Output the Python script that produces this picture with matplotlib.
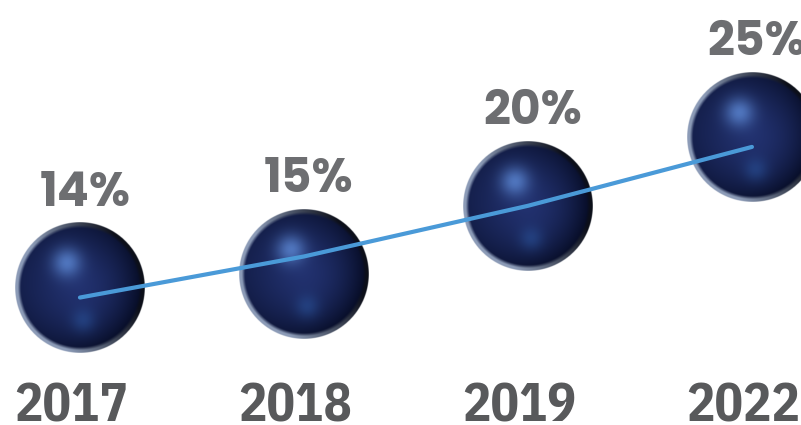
import numpy as np
import matplotlib
matplotlib.use("Agg")
import matplotlib.pyplot as plt
import matplotlib.transforms as mtransforms

# chart data
years = ["2017", "2018", "2019", "2022"]
shares = [14, 15, 20, 25]
trend = [13.3, 16.3, 20.0, 24.3]

W, H = 801, 425
fig = plt.figure(figsize=(W / 100, H / 100), dpi=100)
ax = fig.add_axes([0, 0, 1, 1])
ax.set_xlim(-0.357, 3.219)
ax.set_ylim(3.99, 35.03)
ax.axis("off")

px_x = W / (3.219 + 0.357)
px_y = H / (35.03 - 3.99)
R = 65


def sphere_image(n=300):
    g = np.linspace(-1, 1, n)
    u, v = np.meshgrid(g, g)
    r = np.hypot(u, v)
    center = np.array([0.13, 0.19, 0.43])
    edge = np.array([0.02, 0.04, 0.13])
    f = np.clip(r ** 1.6 * (0.75 + 0.35 * (0.8 * u + 0.3 * v)), 0, 1)[..., None]
    col = center * (1 - f) + edge * f
    h1 = np.exp(-((u + 0.2) ** 2 + (v + 0.38) ** 2) / (2 * 0.16 ** 2))[..., None]
    col = col * (1 - 0.8 * h1) + np.array([0.36, 0.53, 0.83]) * 0.8 * h1
    h2 = np.exp(-((u - 0.05) ** 2 + (v - 0.5) ** 2) / (2 * 0.13 ** 2))[..., None]
    col = col * (1 - 0.45 * h2) + np.array([0.18, 0.36, 0.66]) * 0.45 * h2
    ring = np.clip((r - 0.91) / 0.05, 0, 1)[..., None]
    a = np.clip(0.6 - 0.75 * u + 0.25 * v, 0, 1)[..., None]
    rim = np.array([0.55, 0.61, 0.72]) * a + np.array([0.05, 0.06, 0.10]) * (1 - a)
    col = col * (1 - ring) + rim * ring
    alpha = np.clip((1 - r) * n / 2 + 0.5, 0, 1)
    return np.dstack([np.clip(col, 0, 1), alpha])


img = sphere_image()
hx, hy = R / px_x, R / px_y
for i, s in enumerate(shares):
    ax.imshow(img, extent=(i - hx, i + hx, s - hy, s + hy), aspect="auto",
              interpolation="bilinear", zorder=2)
    ax.annotate(f"{s}%", (i, s), xytext=(5, R + 17), textcoords="offset pixels",
                ha="center", va="baseline", fontsize=34, fontweight="bold",
                family=["Poppins", "Lato", "DejaVu Sans"],
                color="#6d6e71", zorder=4)

ax.plot(range(len(trend)), trend, color="#4a9ad8", lw=3, solid_capstyle="round", zorder=3)

trans = mtransforms.blended_transform_factory(ax.transData, ax.transAxes)
for i, y in enumerate(years):
    ax.text(i - 9 / px_x, 4 / H, y, transform=trans, ha="center", va="baseline",
            fontsize=38, fontweight="bold",
            family=["IBM Plex Sans Condensed", "DejaVu Sans"],
            color="#58595b")

fig.savefig("out.png", dpi=100, facecolor="white")
